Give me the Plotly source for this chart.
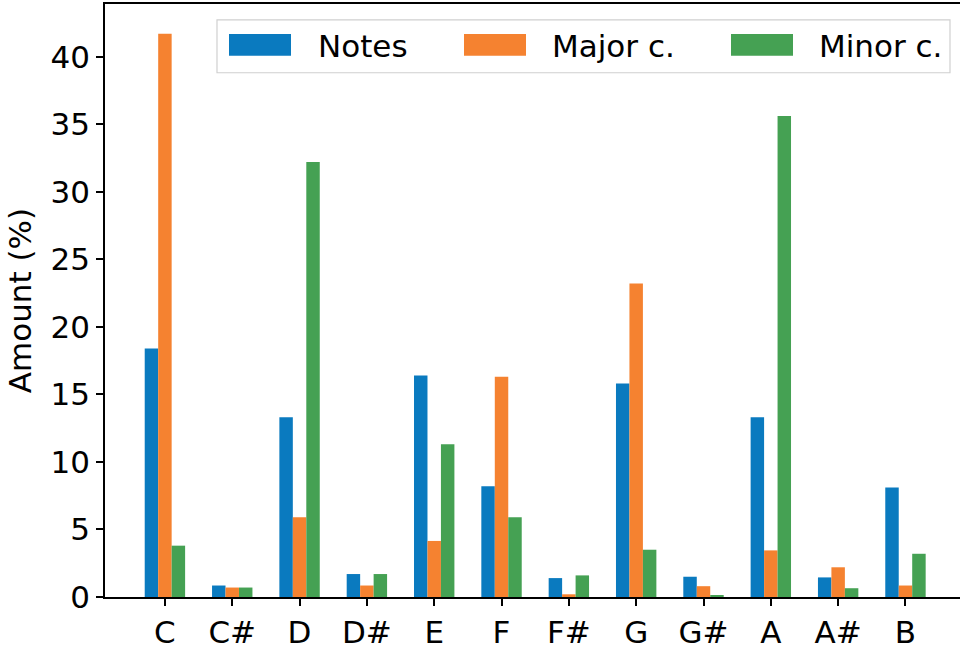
import plotly.graph_objects as go

categories = ["C", "C#", "D", "D#", "E", "F", "F#", "G", "G#", "A", "A#", "B"]
notes = [18.4, 0.85, 13.3, 1.7, 16.4, 8.2, 1.4, 15.8, 1.5, 13.3, 1.45, 8.1]
major = [41.7, 0.7, 5.9, 0.85, 4.15, 16.3, 0.2, 23.2, 0.8, 3.45, 2.2, 0.85]
minor = [3.8, 0.7, 32.2, 1.7, 11.3, 5.9, 1.6, 3.5, 0.15, 35.6, 0.65, 3.2]
series_names = ["Notes", "Major c.", "Minor c."]
colors = ["#0a7abf", "#f58230", "#45a153"]

W, H = 960, 650
L, R, T, B = 105, 0, 4, 51
FONT = "DejaVu Sans"
FS = 31

fig = go.Figure()
for name, vals, col in zip(series_names, [notes, major, minor], colors):
    fig.add_trace(go.Bar(x=list(range(len(categories))), y=vals, name=name,
                         marker=dict(color=col, line=dict(width=0)),
                         showlegend=False))

def px(xp):
    return (xp - L) / (W - L - R)

def py(yp):
    return (H - B - yp) / (H - T - B)

shapes = []
annotations = []
# legend frame
shapes.append(dict(type="rect", xref="paper", yref="paper",
                   x0=px(217), x1=px(950), y0=py(73), y1=py(20),
                   line=dict(color="#d0d0d0", width=1.2), fillcolor="rgba(255,255,255,0.85)",
                   layer="above"))
sw_x = [229, 464, 731]
tx_x = [316, 550, 817]
for name, col, sx, tx in zip(series_names, colors, sw_x, tx_x):
    shapes.append(dict(type="rect", xref="paper", yref="paper",
                       x0=px(sx), x1=px(sx + 62), y0=py(56), y1=py(34),
                       line=dict(width=0), fillcolor=col, layer="above"))
    annotations.append(dict(xref="paper", yref="paper", x=px(tx), y=py(46),
                            text=name, showarrow=False, xanchor="left", yanchor="middle",
                            font=dict(family=FONT, size=FS, color="black")))

fig.update_layout(
    width=W, height=H,
    margin=dict(l=L, r=R, t=T, b=B),
    paper_bgcolor="white", plot_bgcolor="white",
    barmode="group", bargap=0.4, bargroupgap=0,
    font=dict(family=FONT, size=FS, color="black"),
    shapes=shapes, annotations=annotations,
    showlegend=False,
)
fig.update_xaxes(
    range=[-0.89, 11.81],
    tickmode="array", tickvals=list(range(len(categories))), ticktext=categories,
    showline=True, linecolor="black", linewidth=1.6, mirror=True,
    ticks="outside", ticklen=7, tickwidth=1.6, tickcolor="black",
    showgrid=False, zeroline=False,
    tickfont=dict(family=FONT, size=FS),
)
fig.update_yaxes(
    range=[0, 43.9],
    tickvals=[0, 5, 10, 15, 20, 25, 30, 35, 40],
    showline=True, linecolor="black", linewidth=1.6, mirror=False,
    ticks="outside", ticklen=7, tickwidth=1.6, tickcolor="black",
    showgrid=False, zeroline=False,
    tickfont=dict(family=FONT, size=FS),
    title=dict(text="Amount (%)", font=dict(family=FONT, size=FS), standoff=10),
)

fig.write_html("out.html", config={"displayModeBar": False},
               post_script="document.body.style.margin='0';document.body.style.overflow='hidden';")
